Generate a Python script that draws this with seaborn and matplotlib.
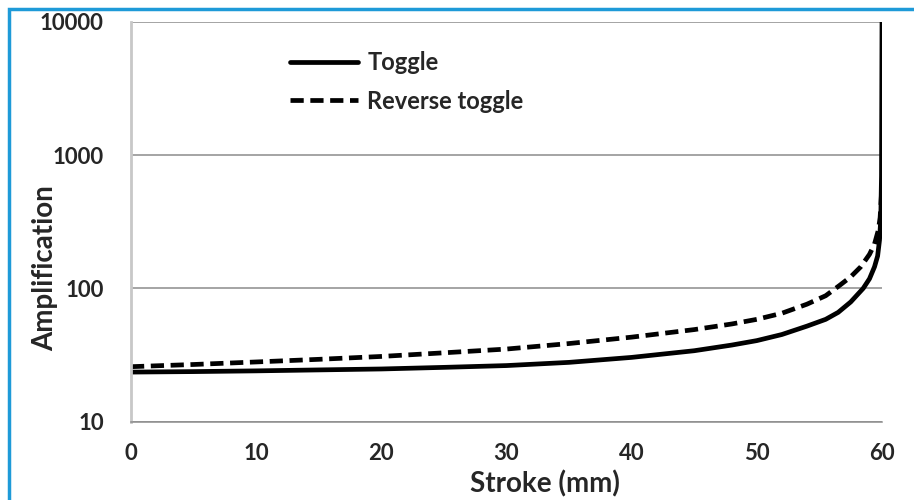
import numpy as np
import pandas as pd
import matplotlib
matplotlib.use("Agg")
import matplotlib.pyplot as plt
import matplotlib.patches as patches
import seaborn as sns

# values
stroke_toggle = [0, 5, 10, 15, 20, 25, 30, 35, 40, 45, 48, 50, 52, 54, 55.5, 56.5,
                 57.5, 58.5, 59, 59.4, 59.65, 59.8, 59.9, 59.96, 60]
amp_toggle = [23.5, 23.7, 24, 24.4, 24.8, 25.5, 26.3, 27.8, 30.3, 34, 37.5, 40.5, 45, 52,
              58.5, 66, 79, 100, 118, 145, 175, 230, 330, 700, 10000]

stroke_reverse = [0, 5, 10, 15, 20, 25, 30, 35, 40, 45, 48, 50, 52, 54, 55.5, 56.6,
                  57.5, 58.3, 59, 59.4, 59.7, 59.85, 60]
amp_reverse = [25.8, 26.8, 28, 29.3, 30.8, 32.8, 35, 38.5, 43, 49, 54, 58.5, 65, 76,
               88, 105, 122, 145, 180, 215, 272, 340, 600]

x_ticks = [0, 10, 20, 30, 40, 50, 60]
y_ticks = [10, 100, 1000, 10000]

df_toggle = pd.DataFrame({"Stroke": stroke_toggle, "Amp": amp_toggle})
df_reverse = pd.DataFrame({"Stroke": stroke_reverse, "Amp": amp_reverse})

sns.set_style("white")
plt.rcParams["font.family"] = ["Lato", "DejaVu Sans"]

fig = plt.figure(figsize=(9.14, 5.0), dpi=100)
ax = fig.add_axes([0.1433, 0.157, 0.8217, 0.799])

sns.lineplot(data=df_toggle, x="Stroke", y="Amp", ax=ax, color="black",
             linewidth=3.4, label="Toggle", sort=False)
sns.lineplot(data=df_reverse, x="Stroke", y="Amp", ax=ax, color="black",
             linewidth=3.4, linestyle=(0, (2.8, 1.4)), label="Reverse toggle", sort=False)

ax.set_yscale("log")
ax.set_xlim(0, 60)
ax.set_ylim(10, 10000)
ax.set_xticks(x_ticks)
ax.set_xticklabels([str(t) for t in x_ticks], fontsize=16, fontweight="bold")
ax.set_yticks(y_ticks)
ax.set_yticklabels([str(t) for t in y_ticks], fontsize=16, fontweight="bold")
ax.yaxis.set_minor_locator(matplotlib.ticker.NullLocator())

ax.grid(axis="y", color="#8c8c8c", linewidth=1.1)
ax.set_axisbelow(True)
for side in ["top", "right"]:
    ax.spines[side].set_visible(False)
ax.spines["left"].set_color("#c8c8c8")
ax.spines["left"].set_linewidth(2)
ax.spines["bottom"].set_color("#8c8c8c")
ax.spines["bottom"].set_linewidth(1.1)
ax.tick_params(axis="both", which="major", length=6.5, width=1, color="#8c8c8c",
               direction="out")
ax.tick_params(axis="x", pad=9)
ax.tick_params(axis="y", pad=13)

ax.set_xlabel("Stroke (mm)", fontsize=20, fontweight="bold")
ax.set_ylabel("Amplification", fontsize=20, fontweight="bold")
ax.xaxis.set_label_coords(0.551, -0.156)
ax.xaxis.label.set_va("center")
ax.yaxis.set_label_coords(-0.1145, 0.384)
ax.yaxis.label.set_va("center")

leg = ax.legend(loc="upper left", bbox_to_anchor=(0.2117, 0.927), frameon=False,
                handlelength=2.9, handletextpad=0.38, labelspacing=0.65, borderpad=0,
                borderaxespad=0, prop={"weight": "bold", "size": 17})

# blue frame around the picture (left and top edges are visible)
fig.patches.append(patches.Rectangle((9 / 914, -0.1), 1.2, 1 - 9 / 500 + 0.1,
                                     transform=fig.transFigure, fill=False,
                                     edgecolor="#1e9ad8", linewidth=2.5))

fig.savefig("out.png", dpi=100)
